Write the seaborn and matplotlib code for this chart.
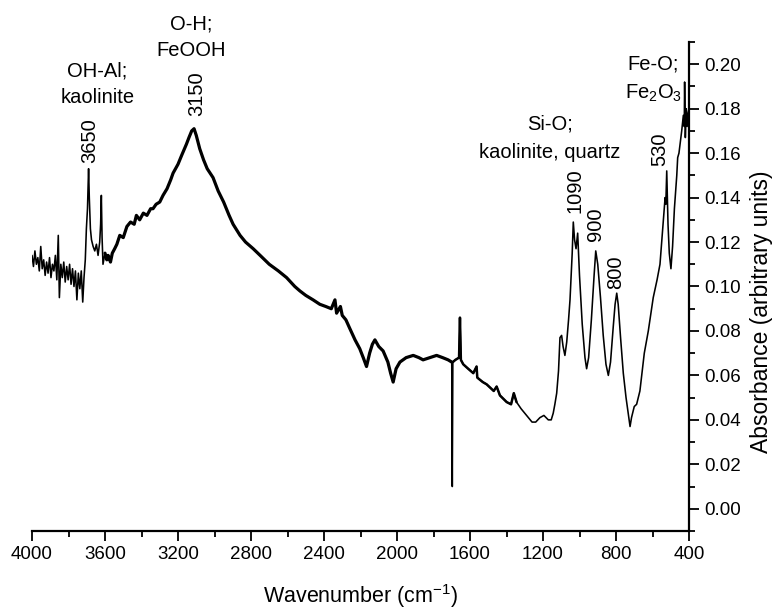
import numpy as np
import pandas as pd
import matplotlib
matplotlib.use("Agg")
import matplotlib.pyplot as plt
import seaborn as sns
from matplotlib.ticker import FixedLocator, MultipleLocator, FormatStrFormatter

# ---------------- data ----------------
wavenumber = [
    4000, 3992, 3984, 3976, 3968, 3960, 3952, 3944, 3936, 3928, 3920, 3912, 3904, 3896,
    3888, 3880, 3872, 3864, 3856, 3850, 3842, 3834, 3826, 3818, 3810, 3802, 3794, 3786,
    3778, 3770, 3762, 3754, 3746, 3738, 3730, 3722, 3715, 3708, 3702, 3696, 3690, 3686,
    3680, 3674, 3665, 3656, 3647, 3638, 3629, 3624, 3620, 3616, 3611, 3600, 3590, 3583,
    3570, 3560, 3547, 3535, 3519, 3500, 3480, 3460, 3440, 3428, 3410, 3390, 3370, 3350,
    3337, 3320, 3300, 3282, 3260, 3240, 3227, 3200, 3180, 3154, 3140, 3125, 3112, 3100,
    3081, 3060, 3040, 3008, 2980, 2950, 2920, 2898, 2860, 2830, 2788, 2750, 2700, 2650,
    2605, 2560, 2532, 2500, 2460, 2423, 2390, 2360, 2340, 2331, 2310, 2300, 2280, 2258,
    2230, 2204, 2185, 2167, 2150, 2135, 2121, 2100, 2076, 2050, 2035, 2021, 2005, 1984,
    1950, 1911, 1880, 1857, 1820, 1783, 1750, 1720, 1700, 1697, 1694, 1680, 1660, 1655,
    1650, 1637, 1610, 1582, 1564, 1560, 1530, 1509, 1470, 1454, 1436, 1399, 1375, 1360,
    1345, 1320, 1290, 1260, 1240, 1217, 1195, 1171, 1155, 1144, 1135, 1125, 1115, 1107,
    1098, 1090, 1080, 1070, 1060, 1052, 1040, 1034, 1027, 1019, 1010, 1000, 985, 970,
    961, 950, 935, 920, 911, 900, 885, 870, 855, 842, 830, 815, 805, 796, 788, 775, 760,
    745, 730, 723, 715, 700, 687, 669, 645, 623, 596, 575, 559, 545, 535, 531, 527, 522,
    515, 508, 499, 490, 480, 467, 462, 455, 440, 431, 426, 424, 420, 415, 410, 405, 400,
]
absorbance = [
    0.114, 0.109, 0.116, 0.110, 0.113, 0.107, 0.118, 0.108, 0.112, 0.105, 0.111, 0.106, 0.113, 0.104,
    0.110, 0.107, 0.114, 0.103, 0.123, 0.095, 0.110, 0.104, 0.111, 0.102, 0.109, 0.103, 0.110, 0.101,
    0.108, 0.100, 0.107, 0.094, 0.106, 0.099, 0.107, 0.093, 0.104, 0.112, 0.126, 0.135, 0.153, 0.140,
    0.126, 0.121, 0.118, 0.116, 0.119, 0.114, 0.120, 0.128, 0.141, 0.122, 0.110, 0.115, 0.112, 0.114,
    0.111, 0.115, 0.117, 0.119, 0.123, 0.122, 0.127, 0.129, 0.128, 0.132, 0.130, 0.133, 0.132, 0.135,
    0.135, 0.137, 0.138, 0.141, 0.144, 0.148, 0.151, 0.155, 0.159, 0.164, 0.167, 0.170, 0.171, 0.168,
    0.162, 0.157, 0.153, 0.149, 0.143, 0.138, 0.132, 0.128, 0.123, 0.120, 0.117, 0.114, 0.110, 0.107,
    0.104, 0.100, 0.098, 0.096, 0.094, 0.092, 0.091, 0.090, 0.094, 0.088, 0.091, 0.087, 0.085, 0.081,
    0.076, 0.072, 0.068, 0.064, 0.070, 0.074, 0.076, 0.073, 0.071, 0.066, 0.061, 0.057, 0.063, 0.066,
    0.068, 0.069, 0.068, 0.067, 0.068, 0.069, 0.068, 0.067, 0.066, 0.010, 0.066, 0.067, 0.068, 0.086,
    0.067, 0.065, 0.063, 0.061, 0.064, 0.059, 0.057, 0.056, 0.053, 0.055, 0.051, 0.048, 0.047, 0.052,
    0.048, 0.045, 0.042, 0.039, 0.039, 0.041, 0.042, 0.040, 0.040, 0.043, 0.047, 0.052, 0.062, 0.077,
    0.078, 0.073, 0.069, 0.075, 0.085, 0.094, 0.115, 0.129, 0.121, 0.117, 0.124, 0.105, 0.083, 0.068,
    0.063, 0.068, 0.085, 0.105, 0.116, 0.110, 0.095, 0.078, 0.065, 0.060, 0.066, 0.082, 0.092, 0.097, 0.092, 0.077, 0.061,
    0.050, 0.041, 0.037, 0.041, 0.046, 0.047, 0.053, 0.070, 0.080, 0.095, 0.103, 0.110, 0.125, 0.136, 0.140, 0.137, 0.152,
    0.128, 0.115, 0.108, 0.118, 0.135, 0.150, 0.158, 0.160, 0.170, 0.177, 0.172, 0.192, 0.167, 0.180, 0.172, 0.178, 0.180,
]

x_ticks = [4000, 3600, 3200, 2800, 2400, 2000, 1600, 1200, 800, 400]
y_ticks = [0.00, 0.02, 0.04, 0.06, 0.08, 0.10, 0.12, 0.14, 0.16, 0.18, 0.20]

peak_labels = ["3650", "3150", "1090", "900", "800", "530"]
peak_wavenumbers = [3683, 3099, 1025, 910, 800, 561]
peak_label_bottoms = [0.1555, 0.1766, 0.133, 0.1204, 0.0988, 0.154]

band_lines = ["OH-Al;", "kaolinite", "O-H;", "FeOOH", "Si-O;", "kaolinite, quartz", "Fe-O;", "Fe$_2$O$_3$"]
band_x = [3642, 3642, 3126, 3126, 1162, 1162, 598, 592]
band_y = [0.1945, 0.1825, 0.2154, 0.2035, 0.1706, 0.1578, 0.1975, 0.1847]

df = pd.DataFrame({"wavenumber": wavenumber, "absorbance": absorbance})

# ---------------- style ----------------
sns.set_style("ticks")
plt.rcParams["font.family"] = ["Liberation Sans", "DejaVu Sans"]
plt.rcParams["text.color"] = "black"
plt.rcParams["axes.labelcolor"] = "black"
plt.rcParams["xtick.color"] = "black"
plt.rcParams["ytick.color"] = "black"
plt.rcParams["mathtext.fontset"] = "custom"
plt.rcParams["mathtext.rm"] = "Liberation Sans"
plt.rcParams["mathtext.it"] = "Liberation Sans:italic"
plt.rcParams["mathtext.bf"] = "Liberation Sans:bold"
plt.rcParams["mathtext.default"] = "regular"

fig = plt.figure(figsize=(7.73, 6.10), dpi=100)
ax = fig.add_axes([32 / 773, 79 / 610, 657 / 773, 489 / 610])

# thin full trace
sns.lineplot(data=df, x="wavenumber", y="absorbance", color="black", lw=1.15,
             sort=False, estimator=None, ax=ax)
# noisy regions appear as a thicker band in the reference
for hi, lo, lw in [(3608, 1700, 2.3), (1694, 1330, 1.8)]:
    sub = df[(df["wavenumber"] <= hi) & (df["wavenumber"] >= lo)]
    sns.lineplot(data=sub, x="wavenumber", y="absorbance", color="black", lw=lw,
                 sort=False, estimator=None, ax=ax)

ax.set_xlim(4000, 400)
ax.set_ylim(-0.01, 0.21)

ax.spines["top"].set_visible(False)
ax.spines["left"].set_visible(False)
for s in ("bottom", "right"):
    ax.spines[s].set_linewidth(1.6)
    ax.spines[s].set_color("black")

ax.yaxis.tick_right()
ax.yaxis.set_label_position("right")
ax.xaxis.set_major_locator(FixedLocator(x_ticks))
ax.xaxis.set_minor_locator(MultipleLocator(200))
ax.yaxis.set_major_locator(FixedLocator(y_ticks))
ax.yaxis.set_minor_locator(MultipleLocator(0.01))
ax.yaxis.set_major_formatter(FormatStrFormatter("%.2f"))
ax.tick_params(axis="both", which="major", direction="out", length=7.5, width=1.3,
               labelsize=13.5, pad=3.5, colors="black", labelcolor="black")
ax.tick_params(axis="both", which="minor", direction="out", length=4.2, width=1.3, colors="black")
ax.tick_params(axis="y", which="both", left=False, right=True)

ax.set_xlabel("Wavenumber (cm$^{-1}$)", fontsize=15.5, color="black")
ax.set_ylabel("Absorbance (arbitrary units)", fontsize=16.5, color="black")
ax.xaxis.set_label_coords(0.5, (531 - 596) / 489)
ax.xaxis.label.set_va("center")
ax.yaxis.set_label_coords((761.7 - 32) / 657, (531 - 311.7) / 489)
ax.yaxis.label.set_va("center")
ax.yaxis.label.set_ha("center")
ax.yaxis.label.set_rotation(90)

for t, xx, yy in zip(peak_labels, peak_wavenumbers, peak_label_bottoms):
    ax.text(xx, yy, t, rotation=90, ha="center", va="bottom", fontsize=14.5, color="black")
for t, xx, yy in zip(band_lines, band_x, band_y):
    ax.text(xx, yy, t, ha="center", va="baseline", fontsize=14.5, clip_on=False, color="black")

fig.savefig("out.png", dpi=100)
